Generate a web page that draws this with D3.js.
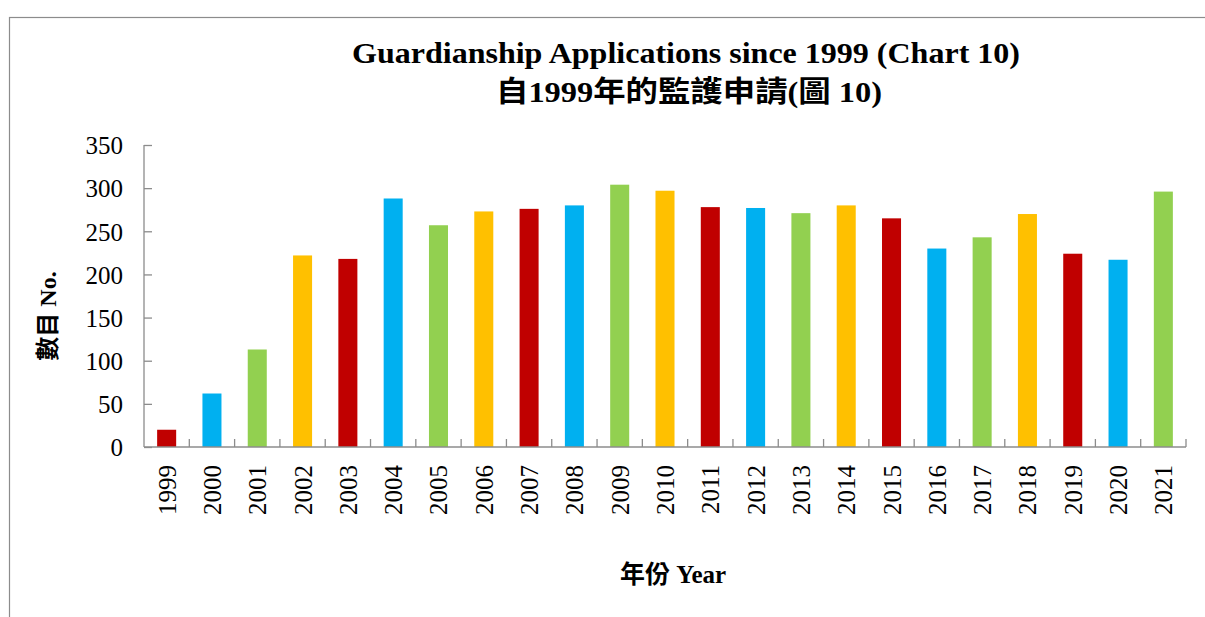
<!DOCTYPE html>
<html>
<head>
<meta charset="utf-8">
<script src="https://cdn.jsdelivr.net/npm/d3@7"></script>
<style>
  body { margin: 0; background: #fff; }
  text { font-family: "Liberation Serif", "Times New Roman", serif; }
  .cjk { font-family: "Liberation Serif", "Noto Sans CJK TC", serif; }
</style>
</head>
<body>
<div class="chart"></div>
<script>
// data
var years = ["1999","2000","2001","2002","2003","2004","2005","2006","2007","2008","2009","2010",
             "2011","2012","2013","2014","2015","2016","2017","2018","2019","2020","2021"];
var applications = [20, 62, 113, 222, 218, 288, 257, 273, 276, 280, 304, 297,
                    278, 277, 271, 280, 265, 230, 243, 270, 224, 217, 296];
var bar_colours = ["#C00000", "#00B0F0", "#92D050", "#FFC000"];
var y_ticks = [0, 50, 100, 150, 200, 250, 300, 350];

var width = 1205, height = 617;
var margin = { top: 145, right: 19, bottom: 170, left: 144 };
var plot_w = 1186 - margin.left;
var plot_h = 447 - margin.top;

var svg = d3.select(".chart").append("svg")
    .attr("width", width)
    .attr("height", height);

// outer frame (runs off the right and bottom edges)
svg.append("rect")
    .attr("x", 9.5).attr("y", 17.5)
    .attr("width", 1300).attr("height", 700)
    .attr("fill", "none")
    .attr("stroke", "#8c8c8c")
    .attr("stroke-width", 1.2);

var g = svg.append("g")
    .attr("transform", "translate(" + margin.left + "," + margin.top + ")");

var x = d3.scaleBand().domain(years).range([0, plot_w]).paddingInner(0.58).paddingOuter(0.29);
var xb = d3.scaleLinear().domain([0, years.length]).range([0, plot_w]);
var y = d3.scaleLinear().domain([0, 350]).range([plot_h, 0]);

// bars
g.selectAll(".bar")
  .data(applications)
  .enter()
  .append("rect")
  .attr("class", "bar")
  .attr("x", function(d, i) { return x(years[i]); })
  .attr("width", x.bandwidth())
  .attr("y", function(d) { return y(d); })
  .attr("height", function(d) { return plot_h - y(d); })
  .attr("fill", function(d, i) { return bar_colours[i % 4]; });

// y axis, ticks point inward
var yAxis = g.append("g")
  .call(d3.axisRight(y).tickValues(y_ticks).tickSize(8).tickFormat(d3.format("d")));
yAxis.select(".domain").attr("stroke", "#8c8c8c").attr("stroke-width", 1.3)
  .attr("d", "M0,0V" + plot_h);
yAxis.selectAll(".tick line").attr("stroke", "#8c8c8c").attr("stroke-width", 1.3);
yAxis.selectAll(".tick text")
  .attr("x", -21)
  .attr("text-anchor", "end")
  .attr("dy", "0.35em")
  .attr("font-size", "25px")
  .attr("fill", "#000");

// x axis, category boundary ticks point up
var xAxis = g.append("g")
  .attr("transform", "translate(0," + plot_h + ")");
xAxis.append("line")
  .attr("x1", 0).attr("x2", plot_w)
  .attr("stroke", "#8c8c8c").attr("stroke-width", 1.6);
xAxis.selectAll(".xtick")
  .data(d3.range(1, years.length + 1))
  .enter()
  .append("line")
  .attr("x1", function(d) { return xb(d); })
  .attr("x2", function(d) { return xb(d); })
  .attr("y1", 0).attr("y2", -8)
  .attr("stroke", "#8c8c8c").attr("stroke-width", 1.3);
xAxis.selectAll(".xlabel")
  .data(years)
  .enter()
  .append("text")
  .attr("transform", function(d) {
    return "translate(" + (x(d) + x.bandwidth() / 2 + 9) + ",18) rotate(-90)";
  })
  .attr("text-anchor", "end")
  .attr("font-size", "25px")
  .text(function(d) { return d; });

// titles
svg.append("text")
  .attr("x", 686).attr("y", 63)
  .attr("text-anchor", "middle")
  .attr("font-size", "30px")
  .attr("font-weight", "bold")
  .attr("textLength", 668)
  .attr("lengthAdjust", "spacingAndGlyphs")
  .text("Guardianship Applications since 1999 (Chart 10)");
svg.append("text")
  .attr("class", "cjk")
  .attr("x", 689).attr("y", 102)
  .attr("text-anchor", "middle")
  .attr("font-size", "29px")
  .attr("font-weight", "bold")
  .attr("textLength", 386)
  .attr("lengthAdjust", "spacingAndGlyphs")
  .text("自1999年的監護申請(圖 10)");

// axis titles
svg.append("text")
  .attr("class", "cjk")
  .attr("transform", "translate(56,316) rotate(-90)")
  .attr("text-anchor", "middle")
  .attr("font-size", "24px")
  .attr("font-weight", "bold")
  .text("數目 No.");
svg.append("text")
  .attr("class", "cjk")
  .attr("x", 673).attr("y", 583)
  .attr("text-anchor", "middle")
  .attr("font-size", "25px")
  .attr("font-weight", "bold")
  .text("年份 Year");
</script>
</body>
</html>
